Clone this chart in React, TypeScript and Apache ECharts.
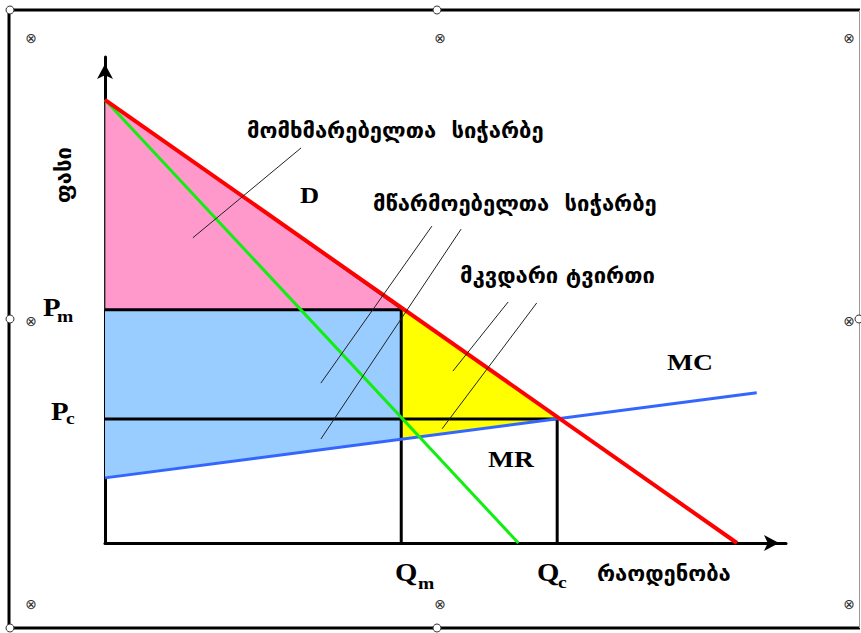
import React, { useEffect, useRef } from "react";
import * as echarts from "echarts";

// ---- data (in chart units: quantity on x, price on y) ----
const demandLine = [[0, 9.12], [9.28, 0]];
const mrLine = [[0, 9.12], [6.07, 0]];
const mcLine = [[0, 1.34], [9.57, 3.09]];

const Pm = 4.8;
const Pc = 2.55;
const Qm = 4.35;
const Qc = 6.64;

const consumerSurplus = [[0, 9.12], [0, Pm], [Qm, Pm]];
const producerSurplus = [[0, Pm], [Qm, Pm], [Qm, 2.14], [0, 1.34]];
const deadweightLoss = [[Qm, 4.85], [Qc, 2.57], [Qm, 2.14]];

const guideLines = [
  [[0, Pm], [Qm, Pm]],
  [[0, Pc], [Qc, Pc]],
  [[Qm, 0], [Qm, Pm]],
  [[Qc, 0], [Qc, Pc]],
];

const leaderLines = [
  [[1.29, 6.28], [2.88, 8.13]],
  [[3.17, 3.29], [4.8, 6.52]],
  [[3.17, 2.14], [5.23, 6.46]],
  [[5.11, 3.54], [5.92, 4.96]],
  [[4.95, 2.35], [6.34, 4.94]],
];

const labelConsumer = "მომხმარებელთა  სიჭარბე";
const labelProducer = "მწარმოებელთა  სიჭარბე";
const labelDeadweight = "მკვდარი ტვირთი";
const labelQuantity = "რაოდენობა";
const labelPrice = "ფასი";

const GEO_FONT = "DejaVu Sans";
const SERIF = "Liberation Serif";

function polygonSeries(points: number[][], fill: string, stroke?: string) {
  return {
    type: "custom",
    silent: true,
    data: points,
    renderItem: (params: any, api: any) => {
      if (params.dataIndex !== 0) return null;
      const pts = points.map((p) => api.coord(p));
      return {
        type: "polygon",
        shape: { points: pts },
        style: { fill, stroke: stroke || null, lineWidth: stroke ? 1 : 0 },
      };
    },
  };
}

function lineSeries(data: number[][], color: string, width: number) {
  return {
    type: "line",
    data,
    symbol: "none",
    silent: true,
    lineStyle: { color, width, cap: "butt" },
  };
}

function serifText(x: number, y: number, text: string, size: number) {
  return {
    type: "text",
    x,
    y,
    scaleX: 1.15,
    style: {
      text,
      fontFamily: SERIF,
      fontWeight: "bold",
      fontSize: size,
      fill: "#000",
      align: "left",
      verticalAlign: "middle",
    },
  };
}

function geoText(x: number, y: number, text: string, size: number, extra: any = {}) {
  return {
    type: "text",
    x,
    y,
    ...extra,
    style: {
      text,
      fontFamily: GEO_FONT,
      fontWeight: "bold",
      fontSize: size,
      fill: "#000",
      align: extra.align || "left",
      verticalAlign: "middle",
    },
  };
}

export default function App() {
  const ref = useRef<HTMLDivElement>(null);
  useEffect(() => {
    if (!ref.current) return;
    const chart = echarts.init(ref.current, null, { renderer: "svg" });

    const axisCommon = {
      type: "value",
      min: 0,
      max: 10,
      axisLine: {
        show: true,
        onZero: false,
        lineStyle: { color: "#000", width: 3 },
        symbol: ["none", "arrow"],
        symbolSize: [12, 15],
        symbolOffset: [0, -7],
      },
      axisTick: { show: false },
      axisLabel: { show: false },
      splitLine: { show: false },
    };

    const handles = [
      [10, 10], [437, 10], [10, 319], [859, 319], [10, 628], [437, 628],
    ];
    const marks = [
      [31, 38], [440, 38], [849, 38], [31, 321], [849, 321], [31, 604], [440, 604], [849, 604],
    ];

    const option: any = {
      animation: false,
      backgroundColor: "#fff",
      grid: { left: 105, right: 75, top: 57, bottom: 90 },
      xAxis: axisCommon,
      yAxis: axisCommon,
      series: [
        polygonSeries(consumerSurplus, "#FF99CC", "#444"),
        polygonSeries(producerSurplus, "#99CCFF"),
        polygonSeries(deadweightLoss, "#FFFF00"),
        ...guideLines.map((d) => lineSeries(d, "#000", 3)),
        lineSeries(mcLine, "#3366FF", 3),
        lineSeries(mrLine, "#11EE11", 3),
        lineSeries(demandLine, "#FF0000", 4),
        ...leaderLines.map((d) => lineSeries(d, "#222", 1)),
      ],
      graphic: [
        { type: "line", shape: { x1: 9, y1: 10, x2: 860, y2: 10 }, style: { stroke: "#000", lineWidth: 3 } },
        { type: "line", shape: { x1: 9, y1: 10, x2: 9, y2: 628 }, style: { stroke: "#000", lineWidth: 3 } },
        { type: "line", shape: { x1: 9, y1: 628, x2: 860, y2: 628 }, style: { stroke: "#000", lineWidth: 3 } },
        { type: "line", shape: { x1: 859.5, y1: 10, x2: 859.5, y2: 628 }, style: { stroke: "#999", lineWidth: 1 } },
        ...handles.map(([x, y]) => ({
          type: "circle",
          shape: { cx: x, cy: y, r: 4 },
          style: { fill: "#fff", stroke: "#333", lineWidth: 1 },
        })),
        ...marks.map(([x, y]) => ({
          type: "text",
          x,
          y,
          style: { text: "⊗", fontFamily: "DejaVu Sans", fontSize: 14, fill: "#333", align: "center", verticalAlign: "middle" },
        })),
        geoText(247, 130, labelConsumer, 22),
        geoText(373, 203, labelProducer, 22),
        geoText(460, 275, labelDeadweight, 22),
        geoText(597, 573, labelQuantity, 22),
        geoText(63, 175, labelPrice, 22, { rotation: Math.PI / 2, align: "center" }),
        serifText(300, 195, "D", 23),
        serifText(667, 362, "MC", 24),
        serifText(488, 459, "MR", 24),
        serifText(43, 308, "P", 25),
        serifText(57, 316, "m", 17),
        serifText(51, 412, "P", 25),
        serifText(66, 418, "c", 17),
        serifText(395, 573, "Q", 25),
        serifText(418, 583, "m", 17),
        serifText(537, 573, "Q", 25),
        serifText(558, 582, "c", 17),
      ],
    };
    chart.setOption(option);
    return () => chart.dispose();
  }, []);
  return (
    <div
      ref={ref}
      style={{ position: "absolute", left: 0, top: 0, width: 861, height: 633 }}
    />
  );
}
